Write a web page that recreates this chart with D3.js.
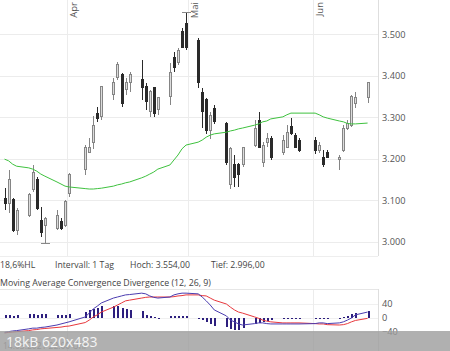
<!DOCTYPE html>
<html>
<head>
<meta charset="utf-8">
<script src="https://cdn.jsdelivr.net/npm/d3@7"></script>
<style>
  body { margin: 0; background: #fff; }
  text { font-family: "Open Sans", sans-serif; }
</style>
</head>
<body>
<div class="canvas"></div>
<script>
// daily candles
const dates = [
  '2021-03-16','2021-03-17','2021-03-18','2021-03-19',
  '2021-03-22','2021-03-23','2021-03-24','2021-03-25','2021-03-26',
  '2021-03-29','2021-03-30','2021-03-31','2021-04-01',
  '2021-04-05','2021-04-06','2021-04-07','2021-04-08','2021-04-09',
  '2021-04-12','2021-04-13','2021-04-14','2021-04-15','2021-04-16',
  '2021-04-19','2021-04-20','2021-04-21','2021-04-22','2021-04-23',
  '2021-04-26','2021-04-27','2021-04-28','2021-04-29','2021-04-30',
  '2021-05-03','2021-05-04','2021-05-05','2021-05-06','2021-05-07',
  '2021-05-10','2021-05-11','2021-05-12','2021-05-13','2021-05-14',
  '2021-05-17','2021-05-18','2021-05-19','2021-05-20','2021-05-21',
  '2021-05-24','2021-05-25','2021-05-26','2021-05-27','2021-05-28',
  '2021-06-01','2021-06-02','2021-06-03','2021-06-04',
  '2021-06-07','2021-06-08','2021-06-09','2021-06-10','2021-06-11',
  '2021-06-14'
];
const open = [
  3105,3093,3101,3028, 3064,3125,3151,3052,3040, 3033,3048,3040,3117,
  3173,3216,3238,3310,3303, 3354,3395,3404,3366,3383, 3390,3373,3313,3371,3318,
  3349,3445,3433,3506,3527, 3486,3359,3342,3269,3322, 3284,3137,3185,3185,3185,
  3233,3293,3192,3240,3250, 3214,3228,3277,3257,3245, 3245,3221,3204,3214,
  3199,3221,3272,3281,3334, 3347
];
const high = [
  3130,3173,3105,3081, 3117,3185,3156,3084,3060, 3076,3057,3101,3166,
  3233,3250,3303,3325,3375, 3395,3433,3407,3395,3409, 3438,3383,3366,3373,3349,
  3431,3457,3467,3515,3554, 3491,3371,3346,3313,3330, 3289,3228,3209,3190,3228,
  3293,3313,3240,3262,3255, 3257,3281,3298,3262,3250, 3252,3240,3221,3221,
  3209,3281,3293,3354,3361, 3385
];
const low = [
  3076,3069,3023,3016, 3060,3120,3076,3011,2996, 3028,3028,3035,3108,
  3161,3214,3224,3289,3293, 3342,3390,3325,3354,3361, 3342,3318,3301,3301,3306,
  3330,3409,3426,3467,3462, 3371,3274,3260,3248,3284, 3185,3127,3132,3132,3180,
  3228,3226,3180,3228,3197, 3209,3226,3257,3226,3216, 3211,3214,3180,3202,
  3173,3216,3269,3276,3322, 3334
];
const close = [
  3093,3149,3028,3076, 3113,3168,3081,3023,3055, 3064,3033,3096,3161,
  3228,3226,3281,3298,3373, 3383,3426,3334,3383,3402, 3371,3337,3361,3308,3347,
  3409,3419,3460,3469,3467, 3385,3313,3269,3305,3289, 3190,3224,3154,3161,3226,
  3274,3228,3233,3250,3202, 3245,3264,3262,3228,3221, 3219,3233,3185,3204,
  3202,3274,3284,3349,3347, 3383
];
const movingAvg = [
  3199,3195,3187,3182, 3178,3175,3170,3163,3158, 3144,3139,3134,3132,
  3128,3127,3127,3128,3129, 3134,3137,3139,3142,3144, 3154,3158,3163,3168,3175,
  3185,3197,3209,3224,3233, 3240,3245,3252,3257,3260, 3264,3267,3269,3272,3274,
  3281,3284,3289,3291,3296, 3301,3306,3310,3310,3310, 3310,3306,3301,3298,
  3291,3289,3285,3284,3284, 3286
];
const macd = [
  -41,-39,-37,-36, -31,-29,-29,-27,-26, -20,-17,-14,-11,
  3,14,26,34,43, 57,60,63,66,67, 71,69,63,59,57,
  60,66,69,71,71, 69,60,49,37,23, 6,-6,-11,-17,-20,
  -16,-14,-14,-16,-17, -17,-17,-17,-17,-17, -16,-14,-14,-16,
  -14,-11,-6,0,9, 17
];
const signal = [
  -43,-41,-40,-39, -36,-34,-33,-31,-30, -27,-26,-24,-23,
  -13,-6,3,9,17, 31,37,43,49,51, 57,59,60,60,60,
  60,61,63,64,66, 66,64,63,57,51, 40,31,23,17,14,
  3,-1,-6,-9,-11, -14,-14,-14,-14,-14, -16,-17,-17,-19,
  -20,-19,-16,-11,-7, -1
];
const hist = [
  9,9,6,9, 11,11,9,11,11, 9,9,9,11,
  17,23,26,29,34, 34,34,29,26,23, 20,9,6,3,1,
  6,6,6,6,6, -3,-6,-11,-17,-23, -26,-31,-34,-34,-29,
  -17,-14,-11,-9,-6, -3,-3,-3,-3,-3, -3,-3,-3,-3,
  -2,2,6,11,14, 20
];
const priceTicks = [3000, 3100, 3200, 3300, 3400, 3500];
const macdTicks = [-40, 0, 40];
const months = [{ name: 'Apr', date: '2021-04-01' }, { name: 'Mai', date: '2021-05-01' }, { name: 'Jun', date: '2021-06-01' }];
const infoTexts = [
  { text: '18,6%HL', x: 0 },
  { text: 'Intervall: 1 Tag', x: 55 },
  { text: 'Hoch:  3.554,00', x: 130 },
  { text: 'Tief:  2.996,00', x: 211 }
];

const dims = { width: 450, height: 351, right: 378, mainBottom: 256, macdTop: 289 };

const parse = d3.timeParse('%Y-%m-%d');
const noon = s => d3.timeHour.offset(parse(s), 12);
const de = d3.formatLocale({ decimal: ',', thousands: '.', grouping: [3], currency: ['', ' €'] });

const data = dates.map((d, i) => ({
  date: noon(d), open: open[i], high: high[i], low: low[i], close: close[i],
  ma: movingAvg[i], macd: macd[i], signal: signal[i], hist: hist[i]
}));

const svg = d3.select('.canvas')
  .append('svg')
  .attr('width', dims.width)
  .attr('height', dims.height);

const x = d3.scaleTime()
  .domain([new Date(2021, 2, 15, 9), new Date(2021, 5, 17, 2)])
  .range([0, dims.right]);

const y = d3.scaleLinear().domain([3000, 3500]).range([241.7, 34.3]);
const yM = d3.scaleLinear().domain([-40, 40]).range([332, 304]);

const px = d => Math.round(x(d));

// ---------- grid ----------
const grid = svg.append('g').attr('shape-rendering', 'crispEdges');
grid.selectAll('.hgrid')
  .data(priceTicks)
  .enter().append('line')
  .attr('x1', 0).attr('x2', dims.right)
  .attr('y1', d => Math.round(y(d)) + 0.5).attr('y2', d => Math.round(y(d)) + 0.5)
  .attr('stroke', '#ececec');

grid.selectAll('.mgrid')
  .data(macdTicks)
  .enter().append('line')
  .attr('x1', 0).attr('x2', dims.right)
  .attr('y1', d => Math.round(yM(d)) + 0.5).attr('y2', d => Math.round(yM(d)) + 0.5)
  .attr('stroke', '#f0f0f0');

months.forEach(m => {
  const gx = px(parse(m.date)) + 0.5;
  grid.append('line').attr('x1', gx).attr('x2', gx).attr('y1', 0).attr('y2', dims.mainBottom).attr('stroke', '#ececec');
  grid.append('line').attr('x1', gx).attr('x2', gx).attr('y1', dims.macdTop).attr('y2', dims.height).attr('stroke', '#ececec');
});

// frame lines
grid.append('line').attr('x1', dims.right + 0.5).attr('x2', dims.right + 0.5).attr('y1', 0).attr('y2', dims.mainBottom).attr('stroke', '#dedede');
grid.append('line').attr('x1', 0).attr('x2', dims.right).attr('y1', dims.mainBottom + 0.5).attr('y2', dims.mainBottom + 0.5).attr('stroke', '#eeeeee');
grid.append('line').attr('x1', 0).attr('x2', dims.right).attr('y1', dims.macdTop + 0.5).attr('y2', dims.macdTop + 0.5).attr('stroke', '#e6e6e6');
grid.append('line').attr('x1', dims.right + 0.5).attr('x2', dims.right + 0.5).attr('y1', dims.macdTop).attr('y2', dims.height).attr('stroke', '#dedede');

// month labels (rotated)
svg.selectAll('.month')
  .data(months)
  .enter().append('text')
  .attr('transform', d => `translate(${x(parse(d.date)) + 10}, 2) rotate(-90)`)
  .attr('text-anchor', 'end')
  .attr('font-size', 9.5)
  .attr('fill', '#555')
  .text(d => d.name);

// ---------- price axis ----------
const axis = svg.append('g')
  .attr('transform', `translate(${dims.right}, 0)`)
  .call(d3.axisRight(y).tickValues(priceTicks).tickSize(0).tickPadding(4).tickFormat(de.format(',d')));
axis.select('.domain').remove();
axis.selectAll('text').attr('font-size', 9.2).attr('fill', '#555').attr('font-family', '"Open Sans", sans-serif');

// ---------- candles ----------
const candles = svg.append('g').attr('shape-rendering', 'crispEdges');
const up = d => d.close >= d.open;

candles.selectAll('.wick')
  .data(data)
  .enter().append('line')
  .attr('x1', d => px(d.date) + 0.5).attr('x2', d => px(d.date) + 0.5)
  .attr('y1', d => y(d.high)).attr('y2', d => y(d.low))
  .attr('stroke', d => up(d) ? '#858585' : '#2a2a2a');

candles.selectAll('.body')
  .data(data)
  .enter().append('rect')
  .attr('x', d => px(d.date) - 0.5)
  .attr('width', 2)
  .attr('y', d => y(Math.max(d.open, d.close)))
  .attr('height', d => Math.max(1, Math.abs(y(d.open) - y(d.close))))
  .attr('fill', d => up(d) ? '#dcdcdc' : '#2a2a2a')
  .attr('stroke', d => up(d) ? '#858585' : '#2a2a2a');

// high / low markers
const hiIdx = d3.maxIndex(data, d => d.high);
const loIdx = d3.minIndex(data, d => d.low);
[[data[hiIdx], data[hiIdx].high], [data[loIdx], data[loIdx].low]].forEach(([d, v]) => {
  candles.append('line')
    .attr('x1', px(d.date) - 4).attr('x2', px(d.date) + 5)
    .attr('y1', Math.round(y(v)) + 0.5).attr('y2', Math.round(y(v)) + 0.5)
    .attr('stroke', '#888');
});

// moving average
svg.append('path')
  .datum(data)
  .attr('fill', 'none')
  .attr('stroke', '#3fc23f')
  .attr('stroke-width', 1)
  .attr('d', d3.line().x(d => x(d.date)).y(d => y(d.ma)));

// ---------- info texts ----------
svg.selectAll('.info')
  .data(infoTexts)
  .enter().append('text')
  .attr('x', d => d.x).attr('y', 267.5)
  .attr('font-size', 8.7).attr('fill', '#444')
  .text(d => d.text);

svg.append('text')
  .attr('x', 0).attr('y', 285.5)
  .attr('font-size', 8.8).attr('fill', '#444')
  .text('Moving Average Convergence Divergence (12, 26, 9)');

// ---------- MACD panel ----------
svg.append('g').attr('shape-rendering', 'crispEdges')
  .selectAll('rect')
  .data(data)
  .enter().append('rect')
  .attr('x', d => px(d.date) - 0.5)
  .attr('width', 2)
  .attr('y', d => Math.min(yM(0), yM(d.hist)))
  .attr('height', d => Math.max(1, Math.abs(yM(d.hist) - yM(0))))
  .attr('fill', '#2d1f7e');

svg.append('path')
  .datum(data)
  .attr('fill', 'none').attr('stroke', '#e8383d').attr('stroke-width', 1)
  .attr('d', d3.line().x(d => x(d.date)).y(d => yM(d.signal)));

svg.append('path')
  .datum(data)
  .attr('fill', 'none').attr('stroke', '#4b3cb0').attr('stroke-width', 1)
  .attr('d', d3.line().x(d => x(d.date)).y(d => yM(d.macd)));

const axisM = svg.append('g')
  .attr('transform', `translate(${dims.right}, 0)`)
  .call(d3.axisRight(yM).tickValues(macdTicks).tickSize(0).tickPadding(4).tickFormat(d3.format('d')));
axisM.select('.domain').remove();
axisM.selectAll('text').attr('font-size', 9.2).attr('fill', '#555').attr('font-family', '"Open Sans", sans-serif');

// timestamp under the thumbnail bar
svg.append('text')
  .attr('x', 3).attr('y', 349)
  .attr('font-size', 8.5).attr('fill', '#888')
  .text('14.03.2021 22:00 Uhr');

// thumbnail caption bar
svg.append('rect')
  .attr('x', 0).attr('y', 331).attr('width', dims.width).attr('height', 20)
  .attr('fill', '#9c9c9c').attr('opacity', 0.8);

svg.append('text')
  .attr('x', 6).attr('y', 347)
  .attr('font-size', 14).attr('fill', '#f4f4f4')
  .text('18kB 620x483');
</script>
</body>
</html>
